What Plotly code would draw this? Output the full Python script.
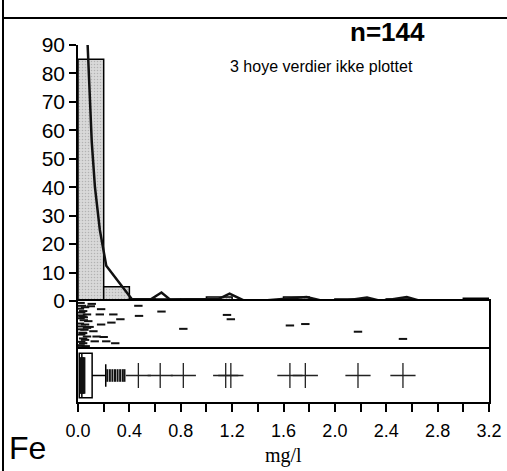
import plotly.graph_objects as go

# histogram (percent of samples per 0.2 mg/l bin)
bin_centers = [0.1, 0.3, 0.5, 0.7, 0.9, 1.1, 1.3, 1.5, 1.7, 1.9, 2.1, 2.3, 2.5, 2.7, 2.9, 3.1]
bin_pct = [85, 5, 0.7, 0.7, 0.7, 1.4, 0, 0, 1.4, 0, 0.7, 0, 0.7, 0, 0, 1.0]

# smoothed frequency curve
curve_x = [0.075, 0.093, 0.107, 0.132, 0.17, 0.22, 0.42, 0.5, 0.57, 0.65, 0.72, 0.85, 1.0,
           1.09, 1.18, 1.29, 1.45, 1.6, 1.72, 1.78, 1.9, 2.1, 2.25, 2.35, 2.45, 2.56, 2.66, 3.0]
curve_y = [90, 72, 56, 40, 25, 12.4, 0.6, 0.6, 0.7, 3.0, 0.4, 0.6, 0.6,
           0.6, 2.6, 0.2, 0.2, 0.7, 1.0, 1.4, 0.1, 0.3, 1.2, 0.1, 0.6, 1.4, 0.1, 0.1]

# jittered strip of single values (x = mg/l, y = jitter 0..1)
strip_x = [0.47, 0.475, 0.65, 0.82, 1.16, 1.19, 1.65, 1.77, 2.18, 2.53,
           0.107, 0.055, 0.04, 0.18, 0.07, 0.17, 0.275, 0.33, 0.26, 0.18, 0.055, 0.08,
           0.07, 0.12, 0.04, 0.07, 0.145, 0.2, 0.055, 0.13, 0.22, 0.29, 0.04,
           0.02, 0.03, 0.015, 0.025, 0.035, 0.02, 0.045, 0.03, 0.015, 0.05, 0.025,
           0.04, 0.02, 0.06, 0.03, 0.015, 0.045, 0.025, 0.035, 0.09, 0.1, 0.02]
strip_y = [0.90, 0.69, 0.78, 0.42, 0.71, 0.62, 0.49, 0.52, 0.36, 0.21,
           0.94, 0.87, 0.79, 0.83, 0.72, 0.72, 0.72, 0.62, 0.55, 0.51, 0.51, 0.58,
           0.44, 0.37, 0.33, 0.26, 0.26, 0.25, 0.19, 0.16, 0.16, 0.12, 0.12,
           0.96, 0.90, 0.84, 0.76, 0.68, 0.64, 0.60, 0.47, 0.41, 0.40, 0.30,
           0.22, 0.08, 0.06, 0.04, 0.53, 0.66, 0.15, 0.34, 0.46, 0.89, 0.70]

# box plot statistics and outliers
box_q1, box_med, box_q3 = 0.01, 0.03, 0.11
box_low, box_high = 0.01, 0.216
inner_x = [0.02, 0.026, 0.032, 0.038, 0.044, 0.05]
near_out_x = [0.228, 0.248, 0.268, 0.288, 0.308, 0.328, 0.348, 0.362]
far_out_x = [0.47, 0.64, 0.82, 1.15, 1.19, 1.65, 1.77, 2.18, 2.53]

x_ticks = [round(i * 0.2, 1) for i in range(17)]
x_ticktext = [f"{v:.1f}" if i % 2 == 0 else "" for i, v in enumerate(x_ticks)]

W, H = 507, 471
SANS = 'Liberation Sans, Arial, sans-serif'


def fy(py):
    return 1 - py / H


fig = go.Figure()

fig.add_trace(go.Bar(
    x=bin_centers, y=bin_pct, width=0.2,
    marker=dict(color='#d6d6d6', line=dict(color='black', width=1.5),
                pattern=dict(shape='.', fgcolor='#8c8c8c', bgcolor='#d9d9d9', size=3, solidity=0.2)),
    xaxis='x', yaxis='y'))

fig.add_trace(go.Scatter(
    x=curve_x, y=curve_y, mode='lines',
    line=dict(color='#111', width=2.5), xaxis='x', yaxis='y'))

fig.add_trace(go.Scatter(
    x=strip_x, y=strip_y, mode='markers',
    marker=dict(symbol='line-ew', size=6, line=dict(width=2, color='#111')),
    xaxis='x2', yaxis='y2'))

fig.add_trace(go.Box(
    y=[0], q1=[box_q1], median=[box_med], q3=[box_q3],
    lowerfence=[box_low], upperfence=[box_high],
    orientation='h', width=0.84, whiskerwidth=0.5,
    fillcolor='white', line=dict(color='black', width=1.5),
    xaxis='x3', yaxis='y3'))

fig.add_trace(go.Scatter(
    x=inner_x, y=[0] * len(inner_x), mode='markers',
    marker=dict(symbol='line-ns', size=26, line=dict(width=2, color='#111')),
    xaxis='x3', yaxis='y3'))

fig.add_trace(go.Scatter(
    x=near_out_x, y=[0] * len(near_out_x), mode='markers',
    marker=dict(symbol='line-ns', size=9, line=dict(width=2, color='#111')),
    xaxis='x3', yaxis='y3'))

fig.add_trace(go.Scatter(
    x=far_out_x, y=[0] * len(far_out_x), mode='markers',
    marker=dict(symbol='cross-thin', size=18, line=dict(width=1.3, color='#222')),
    xaxis='x3', yaxis='y3'))

xdom = [78 / W, 489 / W]
common_x = dict(range=[0, 3.2], domain=xdom, showgrid=False, zeroline=False, automargin=False)

fig.update_layout(
    width=W, height=H,
    margin=dict(l=0, r=0, t=0, b=0, autoexpand=False),
    plot_bgcolor='white', paper_bgcolor='white',
    showlegend=False,
    xaxis=dict(**common_x, anchor='y', showline=False, showticklabels=False, ticks=''),
    yaxis=dict(domain=[fy(301), fy(45)], range=[0, 90], anchor='x', automargin=False,
               tickvals=list(range(0, 100, 10)), ticks='outside', ticklen=7, tickwidth=1.5,
               tickcolor='black', showline=True, linecolor='black', linewidth=1.5,
               showgrid=False, zeroline=False,
               tickfont=dict(family=SANS, size=21, color='black')),
    xaxis2=dict(**common_x, matches='x', anchor='y2', side='top', showline=True,
                linecolor='black', linewidth=2, showticklabels=False, ticks=''),
    yaxis2=dict(domain=[fy(349), fy(301)], range=[0, 1], anchor='x2', automargin=False,
                showline=True, mirror=True, linecolor='black', linewidth=1.5,
                showticklabels=False, ticks='', showgrid=False, zeroline=False),
    xaxis3=dict(**common_x, matches='x', anchor='y3', showline=True, mirror=True,
                linecolor='black', linewidth=1.5,
                tickvals=x_ticks, ticktext=x_ticktext, ticks='outside', ticklen=8,
                tickwidth=1.5, tickcolor='black', ticklabelstandoff=4,
                tickfont=dict(family=SANS, size=18, color='black')),
    yaxis3=dict(domain=[fy(402), fy(349)], range=[-0.5, 0.5], anchor='x3', automargin=False,
                showline=True, mirror=True, linecolor='black', linewidth=1.5,
                showticklabels=False, ticks='', showgrid=False, zeroline=False),
    shapes=[
        dict(type='line', xref='paper', yref='paper', x0=3 / W, x1=1, y0=fy(18), y1=fy(18),
             line=dict(color='black', width=2)),
        dict(type='line', xref='paper', yref='paper', x0=3 / W, x1=3 / W, y0=0, y1=1,
             line=dict(color='black', width=2)),
    ],
    annotations=[
        dict(text='n=144', x=387 / W, y=fy(32), xref='paper', yref='paper',
             showarrow=False, xanchor='center', yanchor='middle',
             font=dict(family=SANS, size=26, color='black', weight='bold')),
        dict(text='3 hoye verdier ikke plottet', x=321 / W, y=fy(67), xref='paper', yref='paper',
             showarrow=False, xanchor='center', yanchor='middle',
             font=dict(family=SANS, size=16, color='black')),
        dict(text='Fe', x=7 / W, y=fy(448), xref='paper', yref='paper',
             showarrow=False, xanchor='left', yanchor='middle',
             font=dict(family=SANS, size=32, color='black')),
        dict(text='mg/l', x=283 / W, y=fy(455), xref='paper', yref='paper',
             showarrow=False, xanchor='center', yanchor='middle',
             font=dict(family='Liberation Serif, Times New Roman, serif', size=20, color='black')),
    ],
)

# drop the browser's default body margin so the figure sits at the window origin
fig.write_html("out.html", config={'displayModeBar': False},
               post_script="document.body.style.margin='0';")
